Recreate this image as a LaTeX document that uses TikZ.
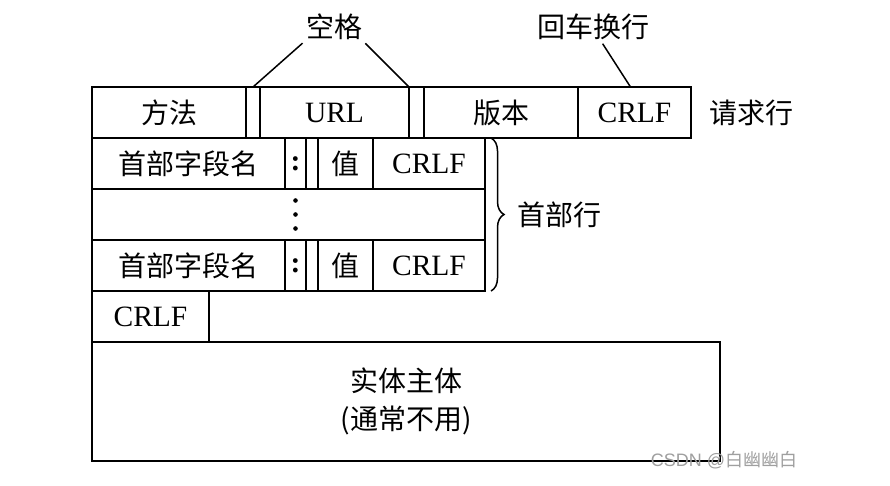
\documentclass[tikz,border=0pt]{standalone}
\usepackage{fontspec}
\setmainfont{Liberation Serif}
\setsansfont{Liberation Sans}
\newfontfamily\cjk{Noto Sans CJK SC}
\usetikzlibrary{positioning, decorations.pathreplacing}
\tikzset{
  cell/.style={draw, line width=1.7pt, outer sep=0pt, inner sep=0pt, minimum height=51pt, font=\fontsize{29.5}{32}\selectfont},
  cjkcell/.style={cell, font=\cjk\fontsize{28}{32}\selectfont},
  gap/.style={cell, minimum width=14pt},
  lbl/.style={font=\cjk\fontsize{28}{32}\selectfont, inner sep=1pt},
  ptr/.style={line width=1.5pt}
}

\begin{document}
\begin{tikzpicture}[x=1pt, y=-1pt, node distance=0pt]
\useasboundingbox (0,0) rectangle (890,486);
% request line
\node[cjkcell, minimum width=154pt, anchor=north west] (method) at (92,87) {方法};
\node[gap, right=of method] (sp1) {};
\node[cell, minimum width=149pt, right=of sp1] (url) {URL};
\node[gap, minimum width=15pt, right=of url] (sp2) {};
\node[cjkcell, minimum width=154pt, right=of sp2] (version) {版本};
\node[cell, minimum width=113pt, right=of version] (reqcrlf) {CRLF};
\node[lbl, right=17pt of reqcrlf] (reqline) {请求行};
\node[lbl] (space) at (334,27) {空格};
\node[lbl] (crlfnote) at (593,27) {回车换行};
\draw[ptr, shorten <=3pt] (space.south west) -- (sp1.north);
\draw[ptr, shorten <=3pt] (space.south east) -- (sp2.north west);
\draw[ptr, shorten <=3pt] ([xshift=8pt]crlfnote.south) -- ([xshift=-4pt]reqcrlf.north);
% header lines
\node[cjkcell, minimum width=193pt, anchor=north west] (name1) at (method.south west) {首部字段名};
\node[cell, minimum width=21pt, right=of name1] (colon1) {\textbf{:}};
\node[gap, minimum width=12pt, right=of colon1] (sp3) {};
\node[cjkcell, minimum width=55pt, right=of sp3] (val1) {值};
\node[cell, minimum width=112pt, right=of val1] (crlf1) {CRLF};
\node[cell, minimum width=393pt, anchor=north west] (dotsrow) at (name1.south west) {};
\foreach \dy in {-14,0,14}
  \fill (colon1.center |- dotsrow.center) ++(0,\dy) circle (2.3pt);
\node[cjkcell, minimum width=193pt, anchor=north west] (name2) at (dotsrow.south west) {首部字段名};
\node[cell, minimum width=21pt, right=of name2] (colon2) {\textbf{:}};
\node[gap, minimum width=12pt, right=of colon2] (sp4) {};
\node[cjkcell, minimum width=55pt, right=of sp4] (val2) {值};
\node[cell, minimum width=112pt, right=of val2] (crlf2) {CRLF};
\draw[ptr, decorate, decoration={brace, amplitude=13pt}] ([xshift=6pt]crlf1.north east) -- ([xshift=6pt]crlf2.south east);
\node[lbl, right=31pt of dotsrow.east] (hdrline) {首部行};
% blank line and body
\node[cell, minimum width=117pt, anchor=north west] (endcrlf) at (name2.south west) {CRLF};
\node[cjkcell, minimum width=628pt, minimum height=119pt, align=center, anchor=north west, font=\cjk\fontsize{28}{38}\selectfont] (body) at (endcrlf.south west) {实体主体\\(通常不用)};
\node[font=\sffamily\fontsize{18}{20}\selectfont, text=gray!75] (mark) at (724,460) {CSDN @{\cjk 白幽幽白}};
\end{tikzpicture}
\end{document}
